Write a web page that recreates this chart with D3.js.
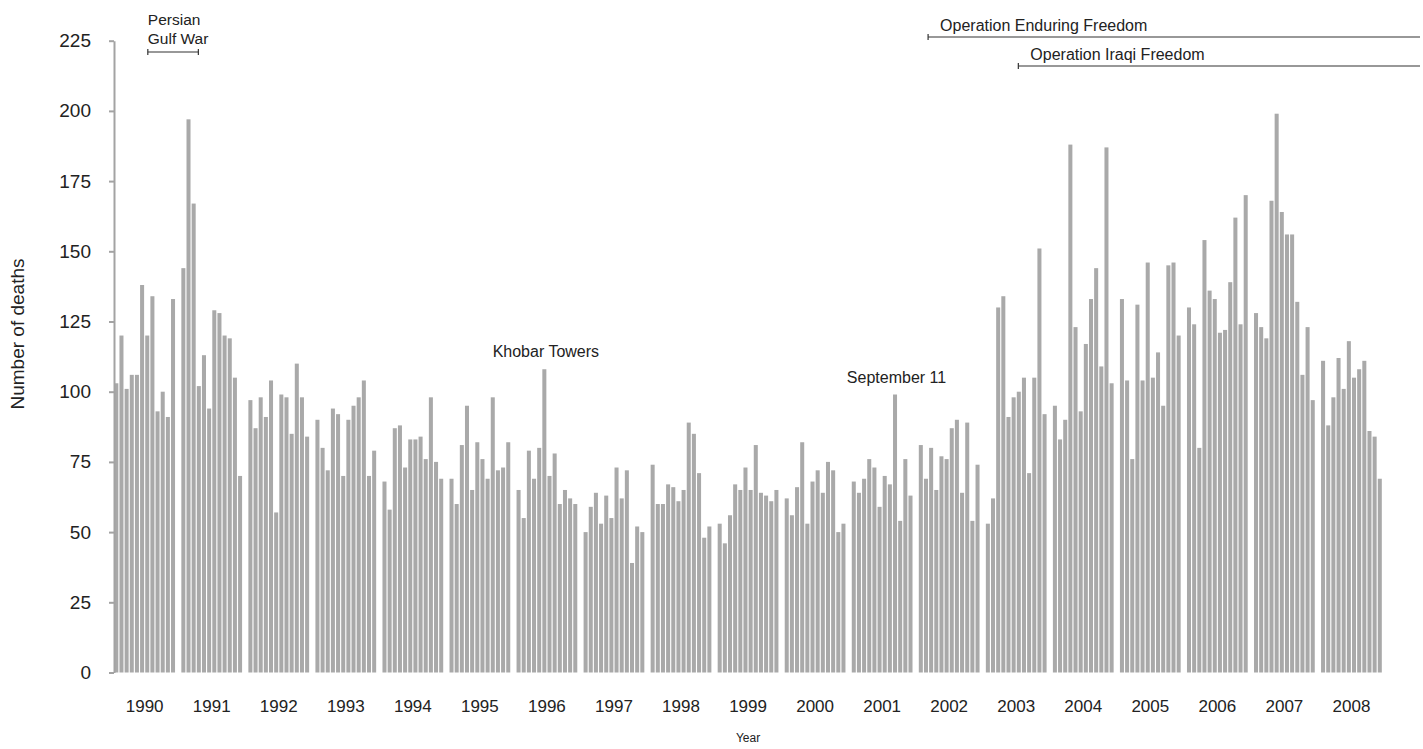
<!DOCTYPE html>
<html>
<head>
<meta charset="utf-8">
<script src="https://cdn.jsdelivr.net/npm/d3@7"></script>
<style>
  body { margin: 0; background: #fff; }
  text { font-family: "Liberation Sans", Arial, sans-serif; fill: #222; }
</style>
</head>
<body>
<div id="chart"></div>
<script>
// monthly deaths, one row per year (Jan..Dec)
const years = [1990, 1991, 1992, 1993, 1994, 1995, 1996, 1997, 1998, 1999,
               2000, 2001, 2002, 2003, 2004, 2005, 2006, 2007, 2008];
const deaths = [
  [103, 120, 101, 106, 106, 138, 120, 134, 93, 100, 91, 133],
  [144, 197, 167, 102, 113, 94, 129, 128, 120, 119, 105, 70],
  [97, 87, 98, 91, 104, 57, 99, 98, 85, 110, 98, 84],
  [90, 80, 72, 94, 92, 70, 90, 95, 98, 104, 70, 79],
  [68, 58, 87, 88, 73, 83, 83, 84, 76, 98, 75, 69],
  [69, 60, 81, 95, 65, 82, 76, 69, 98, 72, 73, 82],
  [65, 55, 79, 69, 80, 108, 70, 78, 60, 65, 62, 60],
  [50, 59, 64, 53, 63, 55, 73, 62, 72, 39, 52, 50],
  [74, 60, 60, 67, 66, 61, 65, 89, 85, 71, 48, 52],
  [53, 46, 56, 67, 65, 73, 65, 81, 64, 63, 61, 65],
  [62, 56, 66, 82, 53, 68, 72, 64, 75, 72, 50, 53],
  [68, 64, 69, 76, 73, 59, 70, 67, 99, 54, 76, 63],
  [81, 69, 80, 65, 77, 76, 87, 90, 64, 89, 54, 74],
  [53, 62, 130, 134, 91, 98, 100, 105, 71, 105, 151, 92],
  [95, 83, 90, 188, 123, 93, 117, 133, 144, 109, 187, 103],
  [133, 104, 76, 131, 104, 146, 105, 114, 95, 145, 146, 120],
  [130, 124, 80, 154, 136, 133, 121, 122, 139, 162, 124, 170],
  [128, 123, 119, 168, 199, 164, 156, 156, 132, 106, 123, 97],
  [111, 88, 98, 112, 101, 118, 105, 108, 111, 86, 84, 69]
];
const yTicks = [0, 25, 50, 75, 100, 125, 150, 175, 200, 225];

// labelled single months
const events = [
  { label: "Khobar Towers", year: 1996, month: 5 },
  { label: "September 11", year: 2001, month: 8 }
];
// spans (month given as fractional position inside the year)
const spans = [
  { label: ["Persian", "Gulf War"], startYear: 1990, startMonth: 6.5, endYear: 1991, endMonth: 3.3 },
  { label: ["Operation Enduring Freedom"], startYear: 2002, startMonth: 1.8, endYear: null },
  { label: ["Operation Iraqi Freedom"], startYear: 2003, startMonth: 6.3, endYear: null }
];

const width = 1423, height = 749;
const barColor = '#a9a9a9';
const axisColor = '#a3a3a3';

const svg = d3.select('#chart').append('svg')
  .attr('width', width)
  .attr('height', height);

const x0 = d3.scaleBand().domain(years).range([114.3, 1381.8]).paddingInner(0.094).paddingOuter(0);
const x1 = d3.scaleBand().domain(d3.range(12)).range([0, x0.bandwidth()]).paddingInner(0.22).paddingOuter(0);
const y = d3.scaleLinear().domain([0, 225]).range([672.5, 40.7]);

function xAt(year, m) {
  return x0(year) + m * x1.step();
}

// bars
const yearG = svg.append('g').selectAll('g')
  .data(years)
  .enter().append('g')
  .attr('transform', d => `translate(${x0(d)},0)`);

yearG.selectAll('rect')
  .data((d, i) => deaths[i].map((v, m) => ({ m: m, v: v })))
  .enter().append('rect')
  .attr('x', d => x1(d.m))
  .attr('width', x1.bandwidth())
  .attr('y', d => y(d.v))
  .attr('height', d => y(0) - y(d.v))
  .attr('fill', barColor);

// y axis
const yAxis = svg.append('g')
  .attr('transform', 'translate(114,0)')
  .call(d3.axisLeft(y).tickValues(yTicks).tickSize(5).tickSizeOuter(0).tickPadding(18));
yAxis.select('.domain').attr('stroke', axisColor).attr('stroke-width', 2);
yAxis.selectAll('.tick line').attr('stroke', axisColor).attr('stroke-width', 2);
yAxis.selectAll('.tick text')
  .style('font-size', '19px')
  .style('font-family', '"Liberation Sans", Arial, sans-serif')
  .attr('fill', '#222');

// year labels
svg.append('g').selectAll('text')
  .data(years)
  .enter().append('text')
  .attr('x', d => x0(d) + x0.bandwidth() / 2)
  .attr('y', 712)
  .attr('text-anchor', 'middle')
  .style('font-size', '17px')
  .text(d => d);

svg.append('text')
  .attr('x', (x0.range()[0] + x0.range()[1]) / 2)
  .attr('y', 742)
  .attr('text-anchor', 'middle')
  .style('font-size', '12px')
  .text('Year');

svg.append('text')
  .attr('transform', 'translate(24,334) rotate(-90)')
  .attr('text-anchor', 'middle')
  .style('font-size', '19px')
  .text('Number of deaths');

// single-month labels
svg.append('g').selectAll('text')
  .data(events)
  .enter().append('text')
  .attr('x', d => xAt(d.year, d.month) + x1.bandwidth() / 2 + 1.5)
  .attr('y', d => y(deaths[years.indexOf(d.year)][d.month]) - 12)
  .attr('text-anchor', 'middle')
  .style('font-size', '16px')
  .text(d => d.label);

// spans
const spanY = [52, 37, 66];
spans.forEach((s, i) => {
  const xs = xAt(s.startYear, s.startMonth);
  const xe = s.endYear ? xAt(s.endYear, s.endMonth) : width - 3;
  const ly = spanY[i];
  const g = svg.append('g');
  g.append('line').attr('x1', xs).attr('x2', xe).attr('y1', ly).attr('y2', ly)
    .attr('stroke', '#333').attr('stroke-width', 1.2);
  g.append('line').attr('x1', xs).attr('x2', xs).attr('y1', ly - 3).attr('y2', ly + 3)
    .attr('stroke', '#333').attr('stroke-width', 1.2);
  if (s.endYear) {
    g.append('line').attr('x1', xe).attr('x2', xe).attr('y1', ly - 3).attr('y2', ly + 3)
      .attr('stroke', '#333').attr('stroke-width', 1.2);
  }
  const tx = s.endYear ? xs : xs + 12;
  s.label.forEach((t, k) => {
    g.append('text')
      .attr('x', tx)
      .attr('y', s.endYear ? 25 + k * 19 : ly - 6)
      .style('font-size', s.endYear ? '15.5px' : '16px')
      .text(t);
  });
});
</script>
</body>
</html>
